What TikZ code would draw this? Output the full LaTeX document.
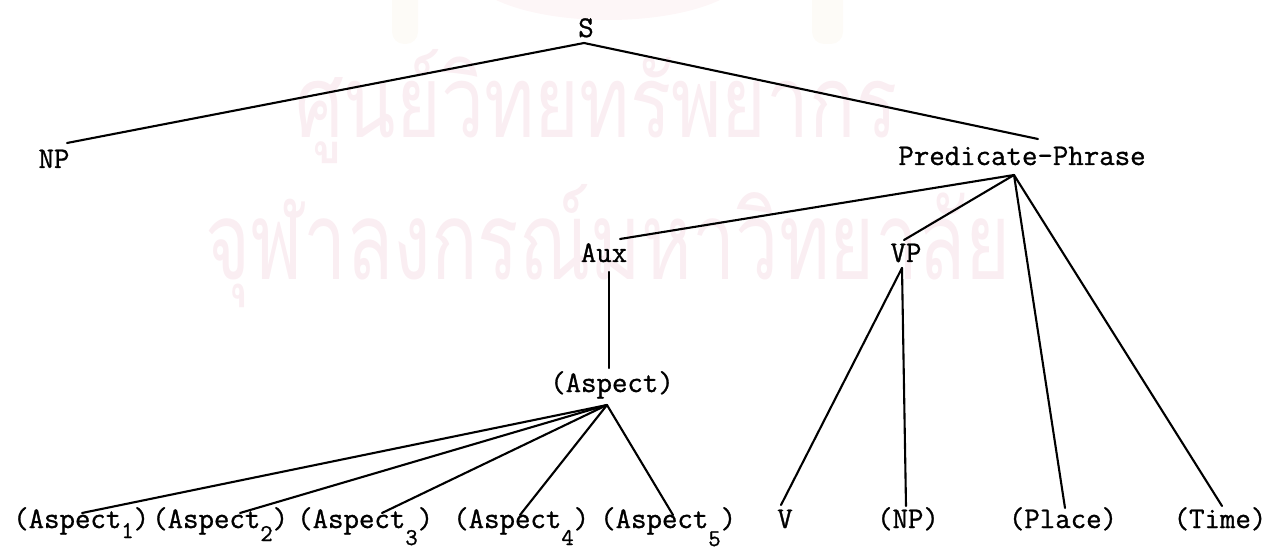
\documentclass[tikz,border=0pt]{standalone}
\usepackage{fontspec}
\newfontfamily\thaifont[Script=Thai]{Loma}
\newfontfamily\tw{Latin Modern Mono}[FakeBold=1]
\definecolor{wm}{RGB}{250,238,242}
\definecolor{logop}{RGB}{253,246,247}
\definecolor{logob}{RGB}{253,251,247}
\newcommand\subsc[2]{\raisebox{-#1pt}{\fontsize{24}{24}\selectfont #2}}
\begin{document}
\begin{tikzpicture}[x=1pt,y=-1pt,
  lbl/.style={anchor=base,inner sep=0pt,font=\fontsize{30}{36}\selectfont\tw},
  lblw/.style={lbl,anchor=base west},
  wmark/.style={anchor=base west,inner sep=0pt,text=wm},
  br/.style={line width=2.1pt,line cap=round}]
\useasboundingbox (0,0) rectangle (1269,553);
% faint logo and watermark
\fill[logop] (608,-30) ellipse (140 and 50);
\fill[logob,rounded corners=12pt] (392,-20) rectangle (418,44);
\fill[logob,rounded corners=12pt] (812,-20) rectangle (843,44);
\node[wmark] (wm1) at (295,138) {\resizebox{602pt}{88pt}{\thaifont ศูนย์วิทยทรัพยากร}};
\node[wmark] (wm2) at (205,280) {\resizebox{805pt}{95pt}{\thaifont จุฬาลงกรณ์มหาวิทยาลัย}};
% labels
\node[lbl] (S) at (586,37) {S};
\node[lbl] (NP) at (54,168) {NP};
\node[lbl] (PP) at (1022,165) {Predicate-Phrase};
\node[lbl] (Aux) at (604,262) {Aux};
\node[lbl] (VP) at (906,262) {VP};
\node[lbl] (Asp) at (612,392) {(Aspect)};
\node[lblw] (A1) at (13,528) {(Aspect\subsc{10}{1})};
\node[lblw] (A2) at (152,528) {(Aspect\subsc{13}{2})};
\node[lblw] (A3) at (297,528) {(Aspect\subsc{17}{3})};
\node[lblw] (A4) at (453,528) {(Aspect\subsc{17}{4})};
\node[lblw] (A5) at (600,528) {(Aspect\subsc{18}{5})};
\node[lbl] (V) at (785,528) {V};
\node[lbl] (NP2) at (908,528) {(NP)};
\node[lbl] (Pl) at (1063,528) {(Place)};
\node[lbl] (Ti) at (1220,528) {(Time)};
% branch points
\coordinate (Sa) at (584,43);
\coordinate (NPt) at (67,143);
\coordinate (PPt) at (1038,139);
\coordinate (PPa) at (1014,175);
\coordinate (Auxt) at (620,239);
\coordinate (Auxb) at (609,272);
\coordinate (VPt) at (904,240);
\coordinate (VPa) at (902,268);
\coordinate (Aspt) at (609,368);
\coordinate (Aspa) at (607,405);
\coordinate (A1t) at (82,513);
\coordinate (A2t) at (240,513);
\coordinate (A3t) at (382,513);
\coordinate (A4t) at (520,515);
\coordinate (A5t) at (673,515);
\coordinate (Vt) at (781,505);
\coordinate (NP2t) at (906,506);
\coordinate (Plt) at (1065,508);
\coordinate (Tit) at (1222,506);
% branches
\draw[br] (NPt) -- (Sa) -- (PPt);
\draw[br] (PPa) -- (Auxt);
\draw[br] (PPa) -- (VPt);
\draw[br] (PPa) -- (Plt);
\draw[br] (PPa) -- (Tit);
\draw[br] (Auxb) -- (Aspt);
\draw[br] (VPa) -- (Vt);
\draw[br] (VPa) -- (NP2t);
\foreach \t in {A1t,A2t,A3t,A4t,A5t} \draw[br] (Aspa) -- (\t);
\end{tikzpicture}
\end{document}
